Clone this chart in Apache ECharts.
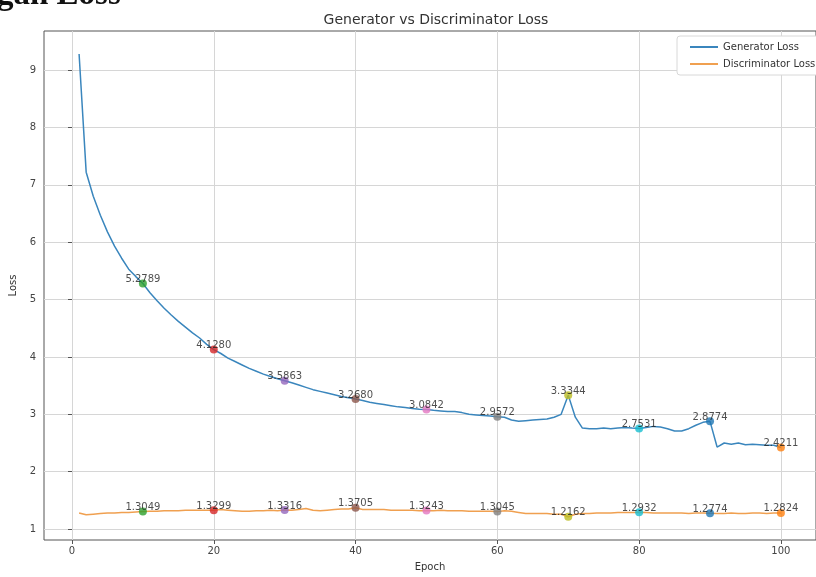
<!DOCTYPE html>
<html>
<head>
<meta charset="utf-8">
<script src="https://cdn.jsdelivr.net/npm/echarts@6/dist/echarts.min.js"></script>
<style>html,body{margin:0;padding:0;background:#fff}#c{width:816px;height:577px}</style>
</head>
<body>
<div id="c"></div>
<script>
// Generator loss per epoch (epochs 1..100)
var generatorLoss = [
  9.28, 7.22, 6.80, 6.47, 6.18, 5.93, 5.72, 5.53, 5.40, 5.2789,
  5.12, 4.98, 4.85, 4.73, 4.62, 4.52, 4.42, 4.33, 4.22, 4.1280,
  4.06, 3.98, 3.92, 3.86, 3.80, 3.75, 3.70, 3.66, 3.62, 3.5863,
  3.55, 3.51, 3.47, 3.43, 3.40, 3.37, 3.34, 3.31, 3.29, 3.2680,
  3.24, 3.21, 3.19, 3.17, 3.15, 3.13, 3.12, 3.10, 3.09, 3.0842,
  3.07, 3.06, 3.05, 3.05, 3.03, 3.00, 2.99, 2.98, 2.97, 2.9572,
  2.95, 2.90, 2.88, 2.89, 2.90, 2.91, 2.92, 2.95, 3.00, 3.3344,
  2.95, 2.76, 2.75, 2.75, 2.76, 2.75, 2.76, 2.77, 2.76, 2.7531,
  2.77, 2.79, 2.78, 2.75, 2.71, 2.71, 2.75, 2.81, 2.86, 2.8774,
  2.43, 2.50, 2.48, 2.50, 2.47, 2.48, 2.47, 2.46, 2.46, 2.4211
];
// Discriminator loss per epoch (epochs 1..100)
var discriminatorLoss = [
  1.28, 1.25, 1.26, 1.27, 1.28, 1.28, 1.29, 1.29, 1.30, 1.3049,
  1.31, 1.31, 1.32, 1.32, 1.32, 1.33, 1.33, 1.33, 1.33, 1.3299,
  1.34, 1.33, 1.32, 1.31, 1.31, 1.32, 1.32, 1.33, 1.32, 1.3316,
  1.33, 1.34, 1.36, 1.33, 1.32, 1.33, 1.34, 1.35, 1.35, 1.3705,
  1.34, 1.34, 1.34, 1.34, 1.33, 1.33, 1.33, 1.33, 1.32, 1.3243,
  1.32, 1.33, 1.32, 1.32, 1.32, 1.31, 1.31, 1.31, 1.31, 1.3045,
  1.32, 1.31, 1.29, 1.27, 1.27, 1.27, 1.27, 1.26, 1.26, 1.2162,
  1.26, 1.27, 1.27, 1.28, 1.28, 1.28, 1.29, 1.29, 1.29, 1.2932,
  1.29, 1.28, 1.28, 1.28, 1.28, 1.28, 1.27, 1.28, 1.28, 1.2774,
  1.27, 1.27, 1.28, 1.27, 1.27, 1.28, 1.28, 1.27, 1.28, 1.2824
];
// Annotated epochs and marker colours
var markedEpochs = [10, 20, 30, 40, 50, 60, 70, 80, 90, 100];
var markerColors = ['#2ca02c', '#d62728', '#9467bd', '#8c564b', '#e377c2', '#7f7f7f', '#bcbd22', '#17becf', '#1f77b4', '#ff7f0e'];
var xTicks = [0, 20, 40, 60, 80, 100];
var yTicks = [1, 2, 3, 4, 5, 6, 7, 8, 9];

var FONT = 'DejaVu Sans';

function toPairs(arr) {
  return arr.map(function (v, i) { return [i + 1, v]; });
}
function marks(arr) {
  return markedEpochs.map(function (e, k) {
    return { value: [e, arr[e - 1]], itemStyle: { color: markerColors[k] } };
  });
}

var labelCfg = {
  show: true, position: 'top', distance: -5,
  fontFamily: FONT, fontSize: 10, color: '#222',
  formatter: function (p) { return p.value[1].toFixed(4); }
};

var chart = echarts.init(document.getElementById('c'));
chart.setOption({
  animation: false,
  backgroundColor: '#fff',
  title: {
    text: 'Generator vs Discriminator Loss',
    left: 431, top: 8, textAlign: 'center',
    textStyle: { fontFamily: FONT, fontSize: 14, fontWeight: 'normal', color: '#333' }
  },
  graphic: [{
    type: 'text', left: -3, top: -21,
    style: { text: 'gan Loss', font: 'bold 33px "Liberation Serif"', fill: '#111' }
  }],
  legend: {
    data: ['Generator Loss', 'Discriminator Loss'],
    orient: 'vertical', left: 677, top: 36,
    itemWidth: 28, itemHeight: 2, itemGap: 7,
    padding: [6, 8, 6, 12],
    backgroundColor: '#fff', borderColor: '#d8d8d8', borderWidth: 1, borderRadius: 3,
    textStyle: { fontFamily: FONT, fontSize: 10, color: '#333' }
  },
  grid: { left: 44, right: -14, top: 31, bottom: 34, show: true, borderColor: '#555', borderWidth: 1, backgroundColor: 'transparent' },
  xAxis: {
    type: 'value', min: -3.95, max: 104.95,
    name: 'Epoch', nameLocation: 'middle', nameGap: 22,
    nameTextStyle: { fontFamily: FONT, fontSize: 10, color: '#333' },
    axisLine: { show: false },
    axisTick: { show: true, customValues: xTicks, length: 4, lineStyle: { color: '#555' } },
    axisLabel: { customValues: xTicks, fontFamily: FONT, fontSize: 10, color: '#444', margin: 6 },
    splitLine: { show: true, lineStyle: { color: '#d6d6d6', width: 1 } }
  },
  yAxis: {
    type: 'value', min: 0.81, max: 9.68,
    name: 'Loss', nameLocation: 'middle', nameGap: 24,
    nameTextStyle: { fontFamily: FONT, fontSize: 10, color: '#333' },
    axisLine: { show: false },
    axisTick: { show: true, customValues: yTicks, length: 4, lineStyle: { color: '#555' } },
    axisLabel: { customValues: yTicks, fontFamily: FONT, fontSize: 10, color: '#444', margin: 8 },
    splitLine: { show: true, lineStyle: { color: '#d6d6d6', width: 1 } }
  },
  series: [
    {
      name: 'Generator Loss', type: 'line', data: toPairs(generatorLoss),
      symbol: 'none', lineStyle: { color: '#3a86bd', width: 1.5 }, itemStyle: { color: '#3a86bd' }, z: 3
    },
    {
      name: 'Discriminator Loss', type: 'line', data: toPairs(discriminatorLoss),
      symbol: 'none', lineStyle: { color: '#f0a050', width: 1.5 }, itemStyle: { color: '#f0a050' }, z: 3
    },
    {
      name: 'G marks', type: 'scatter', data: marks(generatorLoss),
      symbolSize: 8, label: labelCfg, z: 4
    },
    {
      name: 'D marks', type: 'scatter', data: marks(discriminatorLoss),
      symbolSize: 8, label: labelCfg, z: 4
    }
  ]
});
</script>
</body>
</html>
